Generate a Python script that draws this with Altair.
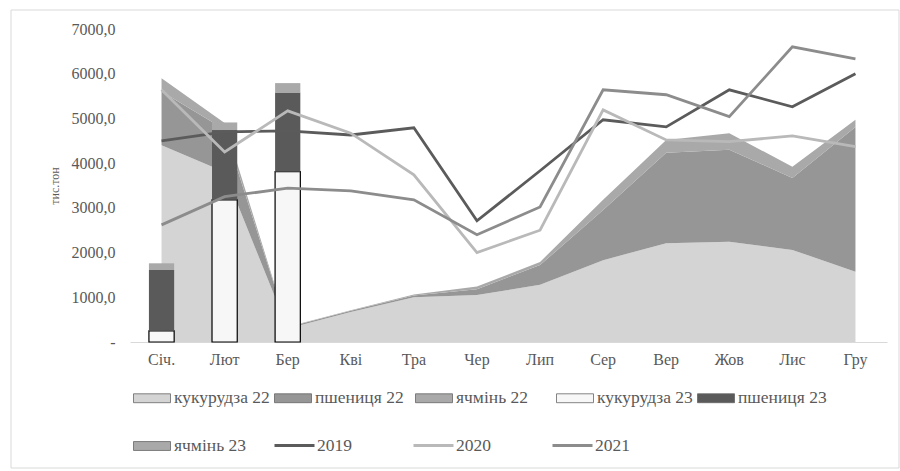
import altair as alt
import pandas as pd

months = ["Січ.", "Лют", "Бер", "Кві", "Тра", "Чер", "Лип", "Сер", "Вер", "Жов", "Лис", "Гру"]

# 2022 (stacked areas)
corn22 = [4400, 3800, 300, 670, 1000, 1050, 1280, 1830, 2210, 2240, 2060, 1570]
wheat22 = [1200, 950, 30, 30, 40, 130, 440, 1120, 2020, 2060, 1610, 3240]
barley22 = [300, 150, 10, 10, 20, 60, 70, 230, 290, 370, 250, 160]

# 2023 (stacked bars, first three months)
months23 = ["Січ.", "Лют", "Бер"]
corn23 = [250, 3180, 3810]
wheat23 = [1360, 1560, 1770]
barley23 = [150, 170, 210]

# previous years (lines)
y2019 = [4500, 4700, 4720, 4630, 4790, 2710, 3830, 4970, 4810, 5640, 5260, 6000]
y2020 = [5640, 4250, 5170, 4670, 3740, 2000, 2500, 5190, 4520, 4480, 4610, 4370]
y2021 = [2620, 3250, 3440, 3380, 3180, 2400, 3020, 5640, 5530, 5040, 6600, 6330]

fill_names = ["кукурудза 22", "пшениця  22", "ячмінь 22", "кукурудза 23", "пшениця  23", "ячмінь 23"]
fill_colors = ["#d4d4d4", "#969696", "#a9a9a9", "#f7f7f7", "#5a5a5a", "#a9a9a9"]
line_names = ["2019", "2020", "2021"]
line_colors = ["#5b5b5b", "#b9b9b9", "#8c8c8c"]

rows = []
for i, m in enumerate(months):
    for k, (name, arr) in enumerate(zip(fill_names[:3], [corn22, wheat22, barley22])):
        rows.append({"month": m, "series": name, "value": arr[i], "idx": k})
area_df = pd.DataFrame(rows)

rows = []
for i, m in enumerate(months23):
    for k, (name, arr) in enumerate(zip(fill_names[3:], [corn23, wheat23, barley23])):
        rows.append({"month": m, "series": name, "value": arr[i], "idx": k})
bar_df = pd.DataFrame(rows)

rows = []
for name, arr in zip(line_names, [y2019, y2020, y2021]):
    for i, m in enumerate(months):
        rows.append({"month": m, "year": name, "value": arr[i]})
line_df = pd.DataFrame(rows)

FONT = "Liberation Serif"
TXT = "#595959"

xscale = alt.Scale(domain=months, paddingInner=0.6, paddingOuter=0.3)
x_enc = alt.X(
    "month:N",
    scale=xscale,
    sort=months,
    axis=alt.Axis(
        title=None, labelAngle=0, ticks=False, domainColor="#d9d9d9", domainWidth=1,
        labelFont=FONT, labelFontSize=16, labelColor=TXT, labelPadding=9,
    ),
)
yscale = alt.Scale(domain=[0, 7000], nice=False)
y_axis = alt.Axis(
    title="тис.тон", values=[0, 1000, 2000, 3000, 4000, 5000, 6000, 7000],
    labelExpr="datum.value == 0 ? '-' : replace(format(datum.value, '.1f'), '.', ',')",
    grid=False, domain=False, ticks=False, labelPadding=15,
    labelFont=FONT, labelFontSize=16, labelColor=TXT,
    titleFont=FONT, titleFontSize=12, titleColor=TXT, titleFontWeight="normal", titlePadding=10,
)

fill_scale = alt.Scale(domain=fill_names, range=fill_colors)
fill_legend = alt.Legend(
    title=None, orient="none", legendX=3, legendY=350, columns=5, direction="horizontal",
    gridAlign="all", columnPadding=2, rowPadding=20, padding=0,
    symbolType="M-1,-0.24H1V0.24H-1Z", symbolSize=1369,
    symbolStrokeWidth=0.8, symbolStrokeColor="#666666", symbolOpacity=1,
    labelFont=FONT, labelFontSize=17.5, labelColor=TXT, labelOffset=3, labelLimit=200,
)

area = alt.Chart(area_df).mark_area(opacity=1, interpolate="linear").encode(
    x=x_enc,
    y=alt.Y("value:Q", stack="zero", scale=yscale, axis=y_axis),
    fill=alt.Fill("series:N", scale=fill_scale, legend=fill_legend),
    order=alt.Order("idx:Q"),
)

bars = alt.Chart(bar_df).mark_bar(opacity=1).encode(
    x=x_enc,
    y=alt.Y("value:Q", stack="zero", scale=yscale),
    fill=alt.Fill("series:N", scale=fill_scale, legend=fill_legend),
    stroke=alt.condition(alt.datum.series == "кукурудза 23", alt.value("#000000"), alt.value("transparent")),
    strokeWidth=alt.value(1.2),
    order=alt.Order("idx:Q"),
)

lines = alt.Chart(line_df).mark_line(strokeWidth=2.8, opacity=1).encode(
    x=x_enc,
    y=alt.Y("value:Q", scale=yscale),
    stroke=alt.Stroke(
        "year:N",
        scale=alt.Scale(domain=line_names, range=line_colors),
        legend=alt.Legend(
            title=None, orient="none", legendX=143, legendY=395, columns=3, direction="horizontal",
            gridAlign="all", columnPadding=55, padding=0,
            symbolType="stroke", symbolSize=1600, symbolStrokeWidth=3,
            labelFont=FONT, labelFontSize=17.5, labelColor=TXT, labelOffset=1,
        ),
    ),
)

border = alt.Chart(pd.DataFrame({"a": [0]})).mark_rect(
    fill="transparent", stroke="#d9d9d9", strokeWidth=1
).encode(
    x=alt.value(-119), x2=alt.value(769), y=alt.value(-19), y2=alt.value(439)
)

chart = alt.layer(border, area, bars, lines).resolve_scale(fill="shared").properties(
    width=757, height=313,
    autosize=alt.AutoSizeParams(type="none"),
    padding={"left": 130, "top": 29, "right": 13, "bottom": 129},
    background="white",
).configure_view(stroke=None)

chart.save("out.html", embed_options={"renderer": "svg", "actions": False})
